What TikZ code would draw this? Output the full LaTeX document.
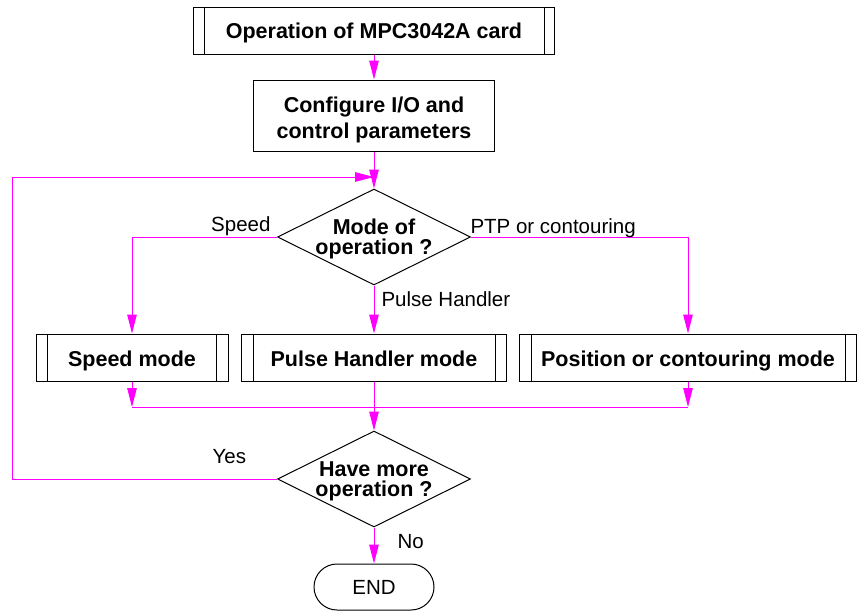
\documentclass[tikz,border=0pt]{standalone}
\usepackage{fontspec}
\setmainfont{Liberation Sans}
\usetikzlibrary{arrows.meta,calc,shapes.geometric,shapes.misc}
\definecolor{flowline}{RGB}{255,0,255}
\def\subbars(#1)(#2){\draw ($(#1.north west)+(#2,0)$) -- ($(#1.south west)+(#2,0)$); \draw ($(#1.north east)-(#2,0)$) -- ($(#1.south east)-(#2,0)$);}
\def\dtext#1#2{\makebox[0pt]{\renewcommand{\arraystretch}{0.88}\begin{tabular}[t]{@{}c@{}}#1\\#2\end{tabular}}}

\begin{document}
\begin{tikzpicture}[x=1pt, y=-1pt, line width=1pt,
	boxtxt/.style={font=\fontsize{21.5}{20.5}\selectfont\bfseries},
	lbl/.style={font=\fontsize{20.5}{24}\selectfont, inner sep=0pt},
	proc/.style={draw, rectangle, boxtxt, inner sep=0pt, align=center, minimum height=47, text height=18.4, text depth=0},
	decision/.style={draw, diamond, boxtxt, inner sep=0pt, minimum width=193, minimum height=96, text height=0, text depth=6},
	term/.style={draw, rounded rectangle, lbl, minimum width=120, minimum height=46},
	flow/.style={draw=flowline, -{Triangle[length=19pt,width=9.5pt]}},
	joinline/.style={draw=flowline}]
		%%%%% START %%%%%
		
		\useasboundingbox (0, 0) rectangle (857, 611);
		
		\node[proc, minimum width=361, text height=16] (op) at (374, 30.5) {Operation of MPC3042A card};
		\subbars(op)(11);
		\node[proc, minimum width=241, minimum height=71, text height=45.6, text depth=0, font=\fontsize{21.5}{25.6}\selectfont\bfseries] (cfg) at (374, 115.5) {Configure I/O and\\control parameters};
		
		\node[decision] (mode) at (374, 237) {\dtext{Mode of}{operation ?}};
		
		\node[proc, minimum width=192] (speed) at (132, 357.5) {Speed mode};
		\subbars(speed)(12);
		\node[proc, minimum width=265] (pulse) at (374, 357.5) {Pulse Handler mode};
		\subbars(pulse)(12);
		\node[proc, minimum width=337] (pos) at (688, 357.5) {Position or contouring mode};
		\subbars(pos)(12);
		
		\node[decision] (more) at (374, 479) {\dtext{Have more}{operation ?}};
		\node[term] (end) at (374, 587) {END};
		
		\coordinate (join) at (374, 177);
		\coordinate (back) at (12, 479);
		\coordinate (mrg) at (374, 407);
		
		\draw[flow] (op.south) -- (cfg.north);
		\draw[flow] (cfg.south) -- (mode.north);
		
		\draw[flow] (mode.west) -| (speed.north);
		\draw[flow] (mode.south) -- (pulse.north);
		\draw[flow] (mode.east) -| (pos.north);
		\node[lbl, anchor=base east] (lspeed) at ($(mode.west)+(-6,-6)$) {Speed};
		\node[lbl, anchor=base west] (lptp) at ($(mode.east)+(-1,-4)$) {PTP or contouring};
		\node[lbl, anchor=base west] (lpulse) at ($(mode.south)+(7,21)$) {Pulse Handler};
		
		\draw[flow] (speed.south) -- (speed.south |- mrg);
		\draw[flow] (pos.south) -- (pos.south |- mrg);
		\draw[joinline] (speed.south |- mrg) -- (pos.south |- mrg);
		\draw[flow] (pulse.south) -- (more.north);
		
		\draw[flow] (more.west) -- node[lbl, pos=0.18, anchor=base, yshift=16pt] (lyes) {Yes} (back) |- (join);
		\draw[flow] (more.south) -- (end.north);
		\node[lbl, anchor=base west] (lno) at ($(more.south)+(23,21)$) {No};
		
		%%%%% END %%%%%
	\end{tikzpicture}
\end{document}
